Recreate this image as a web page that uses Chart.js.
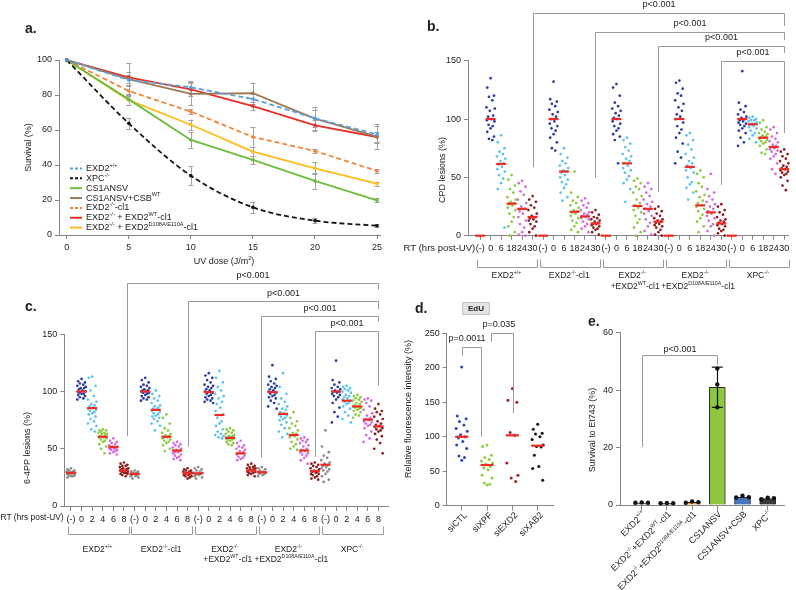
<!DOCTYPE html>
<html><head><meta charset="utf-8">
<script src="https://cdn.jsdelivr.net/npm/chart.js"></script>
<style>
html,body{margin:0;padding:0;background:#fff;}
#wrap{position:relative;width:796px;height:590px;overflow:hidden;background:#fff;}
#wrap canvas{position:absolute;left:0;top:0;}
</style></head><body>
<div id="wrap">
<canvas id="cA" width="796" height="590"></canvas>
<canvas id="cB" width="796" height="590"></canvas>
<canvas id="cC" width="796" height="590"></canvas>
<canvas id="cD" width="796" height="590"></canvas>
<canvas id="cE" width="796" height="590"></canvas>
</div>
<script>
// ---------------- DATA ----------------
// Panel a: survival after UV
const doses = [0,5,10,15,20,25];
const survLabels = ['EXD2^{+/+}','XPC^{-/-}','CS1ANSV','CS1ANSV+CSB^{WT}','EXD2^{-/-}-cl1','EXD2^{-/-} + EXD2^{WT}-cl1','EXD2^{-/-} + EXD2^{D108A/E110A}-cl1'];
const survEXD2wt = [100,88.6,84.4,77.7,66.7,57.5];
const survXPC = [100,63.8,33.9,15.8,8.2,5.3];
const survCS1ANSV = [100,77.5,54.3,42.9,30.9,19.8];
const survCSB = [100,89.1,80.6,81,66.5,56.2];
const survEXD2ko = [100,82.3,70.5,56,48,36.6];
const survWTres = [100,90.1,83.2,73.7,62.7,56];
const survDeadRes = [100,77.1,63,47.6,38.1,29.3];
const errEXD2wt = [0,3,3.5,3,5,5];
const errXPC = [0,3,5.5,3.3,1.5,0.8];
const errCS1ANSV = [0,3,4.5,2.5,4.5,1.2];
const errCSB = [0,9,6.5,6,6.4,7];
const errEXD2ko = [0,3,1.5,5.5,1.3,1];
const errWTres = [0,3,4,2.5,3,3];
const errDeadRes = [0,3,3,2.5,3.4,1.2];

// Panels b and c: group / time labels
const groupRow1 = ['EXD2^{+/+}','EXD2^{-/-}-cl1','EXD2^{-/-}','EXD2^{-/-}','XPC^{-/-}'];
const groupRow2 = ['','','+EXD2^{WT}-cl1','+EXD2^{D108A/E110A}-cl1',''];
const cpdTimes = ['(-)','0','6','18','24','30'];
const ppTimes = ['(-)','0','2','4','6','8'];
const pLabel = 'p<0.001';

// Panel b: CPD lesions (%) — per group, one array per time point
const cpdEXD2wt = [[],
 [135,127,120,119,116,110,109,107,103,102,100,99,98,95,94,92,89,85,83,82],
 [86,80,75,72,70,68,66,64,62,61,59,57,55,52,49,45,40,7],
 [52,48,43,40,37,33,31,29,28,27,26,24,22,19,16,12,8,3,0],
 [47,45,42,38,35,31,28,25,23,21,19,16,13,10,7,3,1,0],
 [34,31,29,26,24,22,19,17,16,15,14,13,12,10,8,6,3,0]];
const cpdEXD2ko = [[],
 [132,117,115,113,111,108,106,104,102,100,98,96,94,92,90,87,84,80,75,73],
 [75,70,67,64,62,60,58,56,55,54,52,50,48,46,44,41,37,33,30],
 [55,37,33,30,28,26,24,22,21,20,19,17,15,13,11,8,5,3],
 [32,30,28,26,24,22,20,19,18,17,16,15,14,12,10,8,6,3],
 [22,20,18,16,15,14,13,12,11,10,10,9,8,7,6,5,3,1]];
const cpdWTres = [[],
 [130,127,120,114,111,109,107,105,103,101,100,98,96,94,92,90,87,85,82,62],
 [84,82,79,76,73,70,68,66,64,62,60,58,56,54,51,48,45,40,29],
 [49,47,45,42,40,37,34,31,28,26,24,22,20,17,14,11,7,3,0],
 [45,42,40,37,34,31,29,27,25,23,21,19,17,14,11,8,4,1],
 [25,23,21,19,17,15,14,13,12,11,10,9,8,7,5,3,1,0]];
const cpdDeadRes = [[],
 [133,131,126,122,120,116,113,110,107,104,102,100,97,94,91,88,84,79,72,67,62],
 [88,86,82,78,74,70,67,64,62,60,58,56,54,50,46,44,41,37,31],
 [56,53,50,45,42,38,35,33,30,28,26,25,23,21,18,15,12,8,3],
 [53,40,37,34,31,29,27,25,23,21,19,17,15,13,10,8,4,0],
 [27,25,22,20,18,16,14,13,12,11,10,9,8,6,5,4,2,0]];
const cpdXPC = [[],
 [141,114,111,108,106,104,102,101,100,99,98,97,96,95,94,92,90,88,84,80,77],
 [102,101,100,99,99,98,97,96,96,95,94,93,92,90,88,86,83,80],
 [99,97,93,91,89,88,87,86,85,84,84,83,82,81,80,79,77,74,71,70],
 [93,91,88,85,83,81,80,78,77,76,75,74,73,72,70,68,66,62,57,53],
 [74,72,70,68,66,64,62,60,59,58,57,56,55,54,53,52,50,47,43,39]];
const cpdMedians = [[0,100,61.5,27.5,23,16],[0,100,55,20.5,16.5,10.5],[0,100,62,25.5,23,12],[0,100,59,26,20,10.5],[0,100,95.5,84,76,57]];

// Panel c: 6-4PP lesions (%)
const ppEXD2wt = [
 [33,32,31,31,30,30,29,29,29,28,28,28,27,27,26,26,25],
 [111,109,108,107,106,105,104,103,103,102,101,100,100,99,98,98,97,96,95,94,93],
 [113,112,105,101,96,93,91,89,88,87,86,85,84,83,82,81,80,78,76,74,72,70,67,65],
 [67,66,66,65,64,64,63,63,62,61,60,60,59,58,57,56,54,52,50,46],
 [59,57,56,55,54,53,52,52,51,51,50,50,49,49,48,47,46,45],
 [38,37,36,35,35,34,33,33,32,32,31,31,30,30,29,29,28,28,27,26]];
const ppEXD2ko = [
 [31,30,30,29,29,28,28,28,27,27,26,26,25,24],
 [112,110,108,106,105,104,103,102,101,101,100,100,99,99,98,97,96,95,94,93,92],
 [101,98,96,94,92,90,88,87,86,85,84,83,82,81,80,79,78,77,76,74,72,70,66],
 [80,77,72,68,66,64,63,62,61,60,60,59,58,57,56,55,53,50,48],
 [56,55,54,53,52,51,50,49,48,47,47,46,45,44,43,42,41,40],
 [33,32,31,31,30,30,29,29,28,28,27,27,26,26,25,24]];
const ppWTres = [
 [34,33,32,31,30,29,29,28,28,27,27,26,25,24],
 [116,114,112,110,108,106,105,104,103,102,101,100,99,98,97,96,95,94,93,92,91,90],
 [118,112,108,104,101,98,96,94,91,89,86,83,80,77,74,72,70,67,65,63,62,61,60,59],
 [68,67,66,65,64,63,62,61,61,60,60,59,59,58,58,57,56,55,54,53],
 [57,55,53,52,51,50,49,48,47,46,46,45,44,43,42,41,40],
 [37,36,35,34,34,33,33,32,32,31,31,30,30,29,29,28,27,26]];
const ppDeadRes = [
 [34,33,32,31,30,30,29,29,28,28,27,26],
 [123,113,111,109,107,106,105,104,103,102,101,100,99,98,97,96,95,94,92,90,87,85],
 [116,104,98,94,91,89,87,85,84,82,81,80,79,78,77,76,75,73,71,68,65,63,60],
 [82,77,74,72,70,68,66,64,63,62,61,60,58,56,54,52,50,49],
 [60,59,58,57,56,55,53,52,50,49,48,47,46,45,44,42,40,37],
 [38,37,36,35,34,33,32,31,30,30,29,28,28,27,26,25,24,23]];
const ppXPC = [
 [66,52,47,44,42,40,38,37,36,35,34,33,32,31,30,28,26,23,21],
 [127,110,108,106,104,103,102,101,100,100,99,98,97,96,95,93,90,86,82,78,73],
 [105,104,103,102,101,100,99,97,96,95,94,93,92,91,90,89,87,85,82,79,76,73],
 [97,96,95,94,93,92,91,90,89,88,87,87,86,86,85,84,83,82,80,79,77],
 [94,93,92,90,87,84,81,79,77,76,75,74,73,72,71,70,68,65,62,59,56],
 [89,85,83,82,80,78,76,74,72,71,70,69,68,67,66,65,63,61,58,55,50,46]];
const ppMedians = [[29,100,85.5,60.5,51.5,31],[28,100,84,60.5,48.5,28.5],[28.5,99.5,79.5,59.5,46,31],[29.5,99.5,80.5,62,48.5,30.5],[36,100,92,87,75.5,69.5]];

// Panel d: EdU relative fluorescence intensity (%)
const siNames = ['siCTL','siXPF','siEXD2','siXAB2'];
const eduCTL = [201,130,126,122,117,112,108,103,100,98,93,88,83,72,70,66];
const eduXPF = [88,86,73,70,67,65,62,60,57,55,52,44,40,33,31,30];
const eduEXD2 = [170,153,150,106,102,62,44,40,35];
const eduXAB2 = [118,111,105,104,100,96,88,86,85,73,57,54,37];
const eduMedians = [100,59,102,87];
const eduPvals = ['p=0.0011','p=0.035'];

// Panel e: survival to Et743 (%)
const etNames = ['EXD2^{+/+}','EXD2^{-/-}+EXD2^{WT}-cl1','EXD2^{-/-}+EXD2^{D108A/E110A}-cl1','CS1ANSV','CS1ANSV+CSB','XPC^{-/-}'];
const etMeans = [0.7,0.6,0.9,41,2.7,2.2];
const etReps = [[0.8,0.9,0.8],[0.6,0.7,0.6],[0.8,1.2,1.0],[47.5,42,34],[2.6,3.2,2.7],[2.0,2.5,2.4]];
const etSD = [0.1,0.1,0.2,7,0.3,0.3];

// ---------------- STYLE / HELPERS ----------------
const FONT = "'Liberation Sans', Arial, Helvetica, sans-serif";
Chart.defaults.font.family = FONT;
Chart.defaults.color = '#222';
const AXC = '#858585', BRC = '#9a9a9a', RED = '#ee2a24', TXT = '#222';
const JIT = [0,-0.32,0.32,-0.16,0.16,-0.4,0.4,-0.08,0.24,-0.24,0.08,-0.36,0.36,-0.2,0.2];

function drawRich(ctx, s, x, y, size, align, opt){
  opt = opt || {};
  const parts = []; const re = /\^\{([^}]*)\}/g; let last = 0, m;
  while ((m = re.exec(s))) { if (m.index > last) parts.push([s.slice(last, m.index), 0]); parts.push([m[1], 1]); last = re.lastIndex; }
  if (last < s.length) parts.push([s.slice(last), 0]);
  const bw = opt.bold ? 'bold ' : '';
  const ss = size * 0.62;
  let total = 0;
  const ws = parts.map(p => { ctx.font = bw + (p[1] ? ss : size) + 'px ' + FONT; const w = ctx.measureText(p[0]).width; total += w; return w; });
  let cx = align === 'center' ? x - total / 2 : align === 'right' ? x - total : x;
  ctx.save(); ctx.fillStyle = opt.color || TXT; ctx.textAlign = 'left'; ctx.textBaseline = 'middle';
  parts.forEach((p, i) => { ctx.font = bw + (p[1] ? ss : size) + 'px ' + FONT; ctx.fillText(p[0], cx, p[1] ? y - size * 0.36 : y); cx += ws[i]; });
  ctx.restore();
}
function vText(ctx, s, x, y, size){ ctx.save(); ctx.translate(x, y); ctx.rotate(-Math.PI/2); drawRich(ctx, s, 0, 0, size, 'center'); ctx.restore(); }
function slantText(ctx, s, x, y, size){ ctx.save(); ctx.translate(x, y); ctx.rotate(-Math.PI/4); drawRich(ctx, s, 0, 0, size, 'right'); ctx.restore(); }
function seg(ctx, pts){ ctx.beginPath(); pts.forEach((p, i) => i ? ctx.lineTo(p[0], p[1]) : ctx.moveTo(p[0], p[1])); ctx.stroke(); }
function hp(v){ return Math.round(v) + 0.5; }

function axisX(min, max, ticks, labelFn, h, font, tl){ return {
  type:'linear', min, max, offset:false,
  afterBuildTicks: s => { s.ticks = ticks.map(v => ({value:v})); },
  afterFit: s => { s.height = h; },
  border:{display:true, color:AXC, width:1},
  grid:{display:true, drawOnChartArea:false, drawTicks:true, tickLength:tl||4, tickColor:AXC, color:AXC, offset:false},
  ticks:{autoSkip:false, maxRotation:0, minRotation:0, padding:3, color:TXT, font:{size:font}, callback:labelFn}
};}
function axisY(min, max, step, w, font){ return {
  type:'linear', min, max,
  afterFit: s => { s.width = w; },
  border:{display:true, color:AXC, width:1},
  grid:{display:true, drawOnChartArea:false, drawTicks:true, tickLength:4, tickColor:AXC, color:AXC},
  ticks:{stepSize:step, padding:3, color:TXT, font:{size:font}}
};}
function baseOpts(area, yW, xH){ return {
  responsive:false, animation:false, devicePixelRatio:1, events:[],
  layout:{padding:{left:area.l - yW, top:area.t, right:796 - area.r, bottom:590 - area.b - xH}},
  plugins:{legend:{display:false}, tooltip:{enabled:false}}
};}
function swarm(groups, colors, spread, radius){
  return colors.map((col, t) => ({
    type:'scatter',
    data: groups.flatMap((g, gi) => g[t].map((v, k) => ({x: gi*6 + t + JIT[k % JIT.length]*spread, y: v}))),
    backgroundColor: col, borderWidth:0, pointRadius:radius, pointHoverRadius:0, clip:false
  }));
}
function medianDS(meds, r){
  return {type:'scatter', data: meds.flatMap((m, gi) => m.map((v, t) => ({x: gi*6 + t, y: v}))),
    pointStyle:'line', pointRadius:r, borderColor:RED, backgroundColor:RED, borderWidth:2.2, clip:false, order:-1};
}
function cols(n){ return Array.from({length:n}, (_, i) => i); }

// ---------------- PANEL A ----------------
const aSeries = [
 {y:survEXD2wt, e:errEXD2wt, c:'#5d9fdb', dash:true},
 {y:survXPC, e:errXPC, c:'#151515', dash:true, curve:true},
 {y:survCS1ANSV, e:errCS1ANSV, c:'#6cbd3c'},
 {y:survCSB, e:errCSB, c:'#9b7a58'},
 {y:survEXD2ko, e:errEXD2ko, c:'#f7823a', dash:true},
 {y:survWTres, e:errWTres, c:'#e53028'},
 {y:survDeadRes, e:errDeadRes, c:'#fdbb1c'}
];
const aPlugin = {id:'aAnn',
  beforeDatasetsDraw(chart){
    const ctx = chart.ctx, xs = chart.scales.x, ys = chart.scales.y;
    ctx.save(); ctx.strokeStyle = '#a0a0a0'; ctx.lineWidth = 1;
    aSeries.forEach(s => doses.forEach((d, i) => {
      const e = s.e[i]; if (!e) return;
      const x = xs.getPixelForValue(d), y1 = ys.getPixelForValue(s.y[i] + e), y2 = ys.getPixelForValue(s.y[i] - e);
      seg(ctx, [[hp(x), y1], [hp(x), y2]]);
      seg(ctx, [[x - 2.5, hp(y1)], [x + 2.5, hp(y1)]]);
      seg(ctx, [[x - 2.5, hp(y2)], [x + 2.5, hp(y2)]]);
    }));
    ctx.restore();
  },
  afterDraw(chart){
    const ctx = chart.ctx;
    drawRich(ctx, 'a.', 25, 29, 14, 'left', {bold:true});
    vText(ctx, 'Survival (%)', 29, 147.5, 9);
    drawRich(ctx, 'UV dose (J/m^{2})', 224, 262, 9, 'center');
    survLabels.forEach((lab, i) => {
      const s = aSeries[i], y = 168.5 + i*9.85;
      ctx.save(); ctx.strokeStyle = s.c; ctx.lineWidth = 2; ctx.setLineDash(s.dash ? [3,2] : []);
      seg(ctx, [[70, y], [82, y]]); ctx.restore();
      drawRich(ctx, lab, 86, y, 9, 'left');
    });
  }
};
new Chart(document.getElementById('cA'), {
  type:'line',
  data:{datasets: aSeries.map(s => ({
    data: doses.map((d, i) => ({x:d, y:s.y[i]})),
    borderColor:s.c, backgroundColor:s.c, borderWidth:1.8, borderDash: s.dash ? [5,3] : [],
    pointRadius:1.8, pointBorderWidth:0, pointBackgroundColor:s.c, tension:0,
    cubicInterpolationMode: s.curve ? 'monotone' : 'default', clip:false, fill:false
  }))},
  options: Object.assign(baseOpts({l:59, t:60, r:380, b:235}, 30, 24), {
    scales:{ x: axisX(-0.62, 25.24, doses, v => String(v), 24, 9), y: axisY(0, 100, 20, 30, 9) }
  }),
  plugins:[aPlugin]
});

// ---------------- PANEL B ----------------
const cpdColors = ['#999999','#2b3b9e','#5cc3ee','#8ccb3e','#d36cd7','#8d1d1d'];
const bBrackets = [ // column indices and heights in data units
  {a:5, b:29, top:190.6, la:59, rb:179.7},
  {a:11, b:29, top:174.9, la:49.5, rb:167.7},
  {a:17, b:29, top:162.9, la:37.5, rb:156.6},
  {a:23, b:29, top:150, la:43.5, rb:88}
];
function groupDecor(ctx, xs, yBr, yL1, yL2, fs){
  ctx.save(); ctx.strokeStyle = BRC; ctx.lineWidth = 1;
  groupRow1.forEach((nm, gi) => {
    const xl = hp(xs.getPixelForValue(gi*6 - 0.31)), xr = hp(xs.getPixelForValue(gi*6 + 5.43));
    seg(ctx, [[xl, yBr - 7], [xl, hp(yBr)], [xr, hp(yBr)], [xr, yBr - 7]]);
    const xc = xs.getPixelForValue(gi*6 + 2.5);
    drawRich(ctx, nm, xc, yL1, fs, 'center');
    if (groupRow2[gi]) drawRich(ctx, groupRow2[gi], xc + 3, yL2, fs, 'center');
  });
  ctx.restore();
}
function pBrackets(ctx, xs, ys, list, labels, off){
  ctx.save(); ctx.strokeStyle = BRC; ctx.lineWidth = 1;
  list.forEach((br, i) => {
    const xa = hp(xs.getPixelForValue(br.a)), xb = hp(xs.getPixelForValue(br.b)), yt = hp(ys.getPixelForValue(br.top));
    seg(ctx, [[xa, ys.getPixelForValue(br.la)], [xa, yt], [xb, yt], [xb, ys.getPixelForValue(br.rb)]]);
    const lx = br.lx !== undefined ? xs.getPixelForValue(br.lx) : (xa + xb) / 2;
    drawRich(ctx, labels[i], lx, yt - off, 9, 'center');
  });
  ctx.restore();
}
const bPlugin = {id:'bAnn', afterDraw(chart){
  const ctx = chart.ctx, xs = chart.scales.x, ys = chart.scales.y;
  drawRich(ctx, 'b.', 427, 27, 14, 'left', {bold:true});
  vText(ctx, 'CPD lesions (%)', 443, 170, 9);
  drawRich(ctx, 'RT (hrs post-UV)', xs.getPixelForValue(0) - 5, 248.5, 9.5, 'right');
  groupDecor(ctx, xs, 266.5, 276, 286.5, 8.5);
  pBrackets(ctx, xs, ys, bBrackets, bBrackets.map(() => pLabel), 8.5);
}};
new Chart(document.getElementById('cB'), {
  type:'scatter',
  data:{datasets: [medianDS(cpdMedians, 5)].concat(swarm([cpdEXD2wt, cpdEXD2ko, cpdWTres, cpdDeadRes, cpdXPC], cpdColors, 1, 1.35))},
  options: Object.assign(baseOpts({l:468, t:60.7, r:791.7, b:235.7}, 30, 26), {
    scales:{ x: axisX(-1.16, 29.44, cols(30), v => cpdTimes[Math.round(v) % 6], 26, 9), y: axisY(0, 150, 50, 30, 9) }
  }),
  plugins:[bPlugin]
});

// ---------------- PANEL C ----------------
const ppColors = ['#8a8a8a','#2b3b9e','#5cc3ee','#8ccb3e','#d36cd7','#8d1d1d'];
const cBrackets = [
  {a:5.3, b:29, top:194.6, la:61.2, rb:189},
  {a:11, b:29, top:179.2, la:51.8, rb:172},
  {a:17.9, b:29, top:166.3, la:41.9, rb:160.8},
  {a:23, b:29, top:153.2, la:43, rb:104.9}
];
const cPlugin = {id:'cAnn', afterDraw(chart){
  const ctx = chart.ctx, xs = chart.scales.x, ys = chart.scales.y;
  drawRich(ctx, 'c.', 25, 307, 14, 'left', {bold:true});
  vText(ctx, '6-4PP lesions (%)', 28, 448, 9);
  drawRich(ctx, 'RT (hrs post-UV)', 0.5, 518, 8.4, 'left');
  groupDecor(ctx, xs, 533.5, 549.5, 560, 8.5);
  pBrackets(ctx, xs, ys, cBrackets, cBrackets.map(() => pLabel), 7.5);
}};
new Chart(document.getElementById('cC'), {
  type:'scatter',
  data:{datasets: [medianDS(ppMedians, 5)].concat(swarm([ppEXD2wt, ppEXD2ko, ppWTres, ppDeadRes, ppXPC], ppColors, 1, 1.35))},
  options: Object.assign(baseOpts({l:64.3, t:334.3, r:388, b:506}, 30, 24), {
    scales:{ x: axisX(-0.63, 29.9, cols(30), v => ppTimes[Math.round(v) % 6], 24, 9, 5), y: axisY(0, 150, 50, 30, 9) }
  }),
  plugins:[cPlugin]
});

// ---------------- PANEL D ----------------
const eduColors = ['#2c47b1','#8fd042','#a52222','#111111'];
const dBrackets = [
  {a:0, b:0.76, top:230.6, la:217.5, rb:100, lx:0.21},
  {a:1.14, b:2.01, top:250.9, la:237.8, rb:134, lx:1.47}
];
const dPlugin = {id:'dAnn', afterDraw(chart){
  const ctx = chart.ctx, xs = chart.scales.x, ys = chart.scales.y;
  drawRich(ctx, 'd.', 415, 309, 14, 'left', {bold:true});
  ctx.save(); ctx.fillStyle = '#e3e3e3'; ctx.strokeStyle = '#c4c4c4'; ctx.lineWidth = 1;
  ctx.fillRect(462, 302, 28, 13); ctx.strokeRect(462.5, 302.5, 27, 12); ctx.restore();
  drawRich(ctx, 'EdU', 476, 308.7, 8, 'center', {bold:true});
  vText(ctx, 'Relative fluorescence intensity (%)', 409, 409, 9);
  siNames.forEach((n, i) => slantText(ctx, n, xs.getPixelForValue(i) + 4, 514, 9));
  pBrackets(ctx, xs, ys, dBrackets, eduPvals, 9);
}};
new Chart(document.getElementById('cD'), {
  type:'scatter',
  data:{datasets: [
    {type:'scatter', data: eduMedians.map((v, i) => ({x:i, y:v})), pointStyle:'line', pointRadius:6.5, borderColor:RED, backgroundColor:RED, borderWidth:2.2, clip:false, order:-1}
  ].concat([eduCTL, eduXPF, eduEXD2, eduXAB2].map((arr, i) => ({
    type:'scatter', data: arr.map((v, k) => ({x: i + JIT[k % JIT.length]*0.55, y: v})),
    backgroundColor: eduColors[i], borderWidth:0, pointRadius:1.5, clip:false
  })))},
  options: Object.assign(baseOpts({l:446.7, t:333.3, r:553, b:505.7}, 30, 20), {
    scales:{ x: axisX(-0.592, 3.604, [0,1,2,3], () => '', 20, 9, 5), y: axisY(0, 250, 50, 30, 9) }
  }),
  plugins:[dPlugin]
});

// ---------------- PANEL E ----------------
const etColors = ['#5cb6e4','#8e8e8e','#f2a536','#8dc63f','#4876c0','#3a3a3a'];
const eBrackets = [{a:0, b:3, top:52.2, la:20.3, rb:48.75}];
const ePlugin = {id:'eAnn',
  afterDatasetsDraw(chart){
    const ctx = chart.ctx, xs = chart.scales.x, ys = chart.scales.y;
    ctx.save(); ctx.strokeStyle = '#111'; ctx.lineWidth = 1.2;
    etMeans.forEach((m, i) => {
      if (etSD[i] < 1) return;
      const x = xs.getPixelForValue(i), y1 = ys.getPixelForValue(m + etSD[i]), y2 = ys.getPixelForValue(m - etSD[i]);
      seg(ctx, [[hp(x), y1], [hp(x), y2]]);
      seg(ctx, [[x - 5.5, y1], [x + 5.5, y1]]);
      seg(ctx, [[x - 5.5, y2], [x + 5.5, y2]]);
    });
    ctx.restore();
  },
  afterDraw(chart){
    const ctx = chart.ctx, xs = chart.scales.x, ys = chart.scales.y;
    drawRich(ctx, 'e.', 588, 322, 14, 'left', {bold:true});
    vText(ctx, 'Survival to Et743 (%)', 593, 430, 9);
    etNames.forEach((n, i) => slantText(ctx, n, xs.getPixelForValue(i) + 3, 513, 9));
    pBrackets(ctx, xs, ys, eBrackets, [pLabel], 6);
  }
};
new Chart(document.getElementById('cE'), {
  type:'bar',
  data:{datasets: [
    {type:'bar', data: etMeans.map((v, i) => ({x:i, y:v})), backgroundColor: etColors, borderColor:'#2a2a2a', borderWidth:1, barThickness:16, order:2},
    {type:'scatter', data: etReps.flatMap((r, i) => {
        const tight = Math.max(...r) - Math.min(...r) < 3;
        return r.map((v, k) => ({x: i + (tight ? (k - 1)*0.25 : 0), y: v}));
      }), backgroundColor:'#111', borderWidth:0, pointRadius:2.2, clip:false, order:-1}
  ]},
  options: Object.assign(baseOpts({l:620, t:332.7, r:784, b:505}, 30, 20), {
    scales:{ x: axisX(-0.861, 5.647, [0,1,2,3,4,5], () => '', 20, 9, 5), y: axisY(0, 60, 20, 30, 9) }
  }),
  plugins:[ePlugin]
});
</script>
</body></html>
